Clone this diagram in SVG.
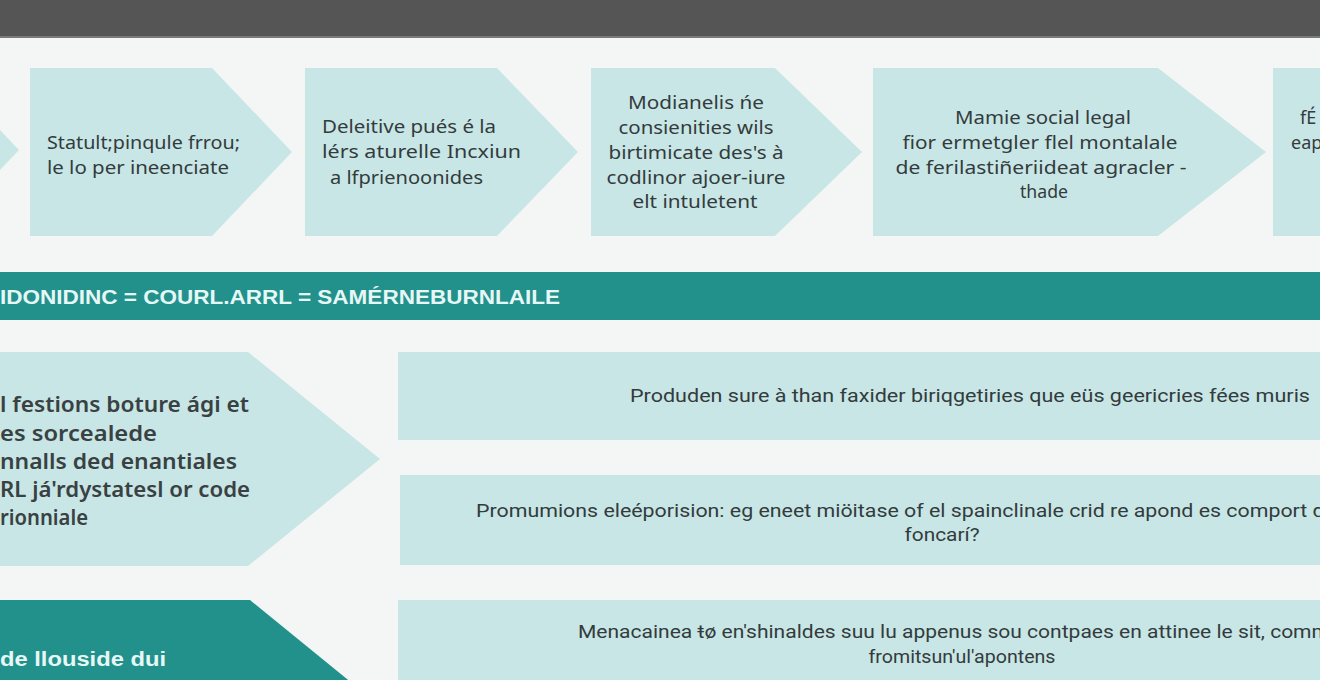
<svg xmlns="http://www.w3.org/2000/svg" width="1320" height="680" viewBox="0 0 1320 680">
<style>
.lt{fill:#c8e6e5}
.tl{fill:#22918c}
.t{font-family:"Noto Sans","Open Sans","Liberation Sans",sans-serif;font-size:18px;fill:#333b3d}
.c{text-anchor:middle}
.n{font-family:"Liberation Sans Narrow","Roboto","Liberation Sans",sans-serif;font-size:18px;fill:#333b3d}
.b{font-family:"Noto Sans","Open Sans","Liberation Sans",sans-serif;font-size:21px;font-weight:600;fill:#394143}
.w{font-family:"Liberation Sans",sans-serif;font-size:20px;font-weight:bold;fill:#e6f8f6}
</style>
<rect width="1320" height="680" fill="#f4f6f6"/>
<rect width="1320" height="36" fill="#555555"/>
<rect y="36" width="1320" height="2" fill="#7a7a7a"/>

<g id="node-top0"><polygon class="lt" points="-20,130 0,130 19,150 0,170 -20,170"/></g>
<g id="node-top1">
<polygon class="lt" points="30,68 212,68 292,152 212,236 30,236"/>
<text class="t" x="47" y="149" textLength="193" lengthAdjust="spacingAndGlyphs">Statult;pinqule frrou;</text>
<text class="t" x="47" y="174" textLength="182" lengthAdjust="spacingAndGlyphs">le lo per ineenciate</text>
</g>
<g id="node-top2">
<polygon class="lt" points="305,68 497,68 578,152 497,236 305,236"/>
<text class="t" x="322" y="133" textLength="174" lengthAdjust="spacingAndGlyphs">Deleitive pués é la</text>
<text class="t" x="322" y="158" textLength="199" lengthAdjust="spacingAndGlyphs">lérs aturelle Incxiun</text>
<text class="t" x="330" y="184" textLength="153" lengthAdjust="spacingAndGlyphs">a lfprienoonides</text>
</g>
<g id="node-top3">
<polygon class="lt" points="591,68 775,68 862,152 775,236 591,236"/>
<text class="t c" x="696" y="109" textLength="136" lengthAdjust="spacingAndGlyphs">Modianelis ńe</text>
<text class="t c" x="696" y="134" textLength="155" lengthAdjust="spacingAndGlyphs">consienities wils</text>
<text class="t c" x="696" y="159" textLength="175" lengthAdjust="spacingAndGlyphs">birtimicate des's à</text>
<text class="t c" x="696" y="184" textLength="179" lengthAdjust="spacingAndGlyphs">codlinor ajoer-iure</text>
<text class="t c" x="695" y="208" textLength="125" lengthAdjust="spacingAndGlyphs">elt intuletent</text>
</g>
<g id="node-top4">
<polygon class="lt" points="873,68 1158,68 1266,152 1158,236 873,236"/>
<text class="t c" x="1043" y="124" textLength="176" lengthAdjust="spacingAndGlyphs">Mamie social legal</text>
<text class="t c" x="1040" y="149" textLength="275" lengthAdjust="spacingAndGlyphs">fior ermetgler flel montalale</text>
<text class="t c" x="1041" y="174" textLength="291" lengthAdjust="spacingAndGlyphs">de ferilastiñeriideat agracler -</text>
<text class="t c" x="1044" y="198" textLength="48" lengthAdjust="spacingAndGlyphs">thade</text>
</g>
<g id="node-top5">
<rect class="lt" x="1273" y="68" width="60" height="168"/>
<text class="t" x="1300" y="124">fÉ</text>
<text class="t" x="1291" y="149">eap</text>
</g>

<g id="band">
<rect class="tl" x="0" y="272" width="1320" height="48"/>
<text class="w" x="0" y="304" textLength="560" lengthAdjust="spacingAndGlyphs">IDONIDINC = COURL.ARRL = SAMÉRNEBURNLAILE</text>
</g>

<g id="node-mid-left">
<polygon class="lt" points="-10,352 248,352 380,459 248,566 -10,566"/>
<text class="b" x="0" y="412" textLength="249" lengthAdjust="spacingAndGlyphs">l festions boture ági et</text>
<text class="b" x="0" y="441" textLength="157" lengthAdjust="spacingAndGlyphs">es sorcealede</text>
<text class="b" x="0" y="469" textLength="237" lengthAdjust="spacingAndGlyphs">nnalls ded enantiales</text>
<text class="b" x="0" y="497" textLength="250" lengthAdjust="spacingAndGlyphs">RL já'rdystatesl or code</text>
<text class="b" x="0" y="525" textLength="88" lengthAdjust="spacingAndGlyphs">rionniale</text>
</g>

<g id="node-rect-a">
<rect class="lt" x="398" y="352" width="940" height="88"/>
<text class="n" x="630" y="402" textLength="680" lengthAdjust="spacingAndGlyphs">Produden sure à than faxider biriqgetiries que eüs geericries fées muris</text>
</g>
<g id="node-rect-b">
<rect class="lt" x="400" y="475" width="940" height="90"/>
<text class="n" x="476" y="517" textLength="860" lengthAdjust="spacingAndGlyphs">Promumions eleéporision: eg eneet miöitase of el spainclinale crid re apond es comport de</text>
<text class="n c" x="942" y="541" textLength="75" lengthAdjust="spacingAndGlyphs">foncarí?</text>
</g>

<g id="node-bottom-left">
<polygon class="tl" points="-10,600 250,600 385,710 -10,710"/>
<text class="w" x="0" y="666" font-size="21" textLength="166" lengthAdjust="spacingAndGlyphs">de llouside dui</text>
</g>
<g id="node-rect-c">
<rect class="lt" x="398" y="600" width="940" height="100"/>
<text class="n" x="578" y="638" textLength="752" lengthAdjust="spacingAndGlyphs">Menacainea ŧø en'shinaldes suu lu appenus sou contpaes en attinee le sit, comm</text>
<text class="n c" x="962" y="663" textLength="187" lengthAdjust="spacingAndGlyphs">fromitsun'ul'apontens</text>
</g>

<g id="connectors"></g>
</svg>
